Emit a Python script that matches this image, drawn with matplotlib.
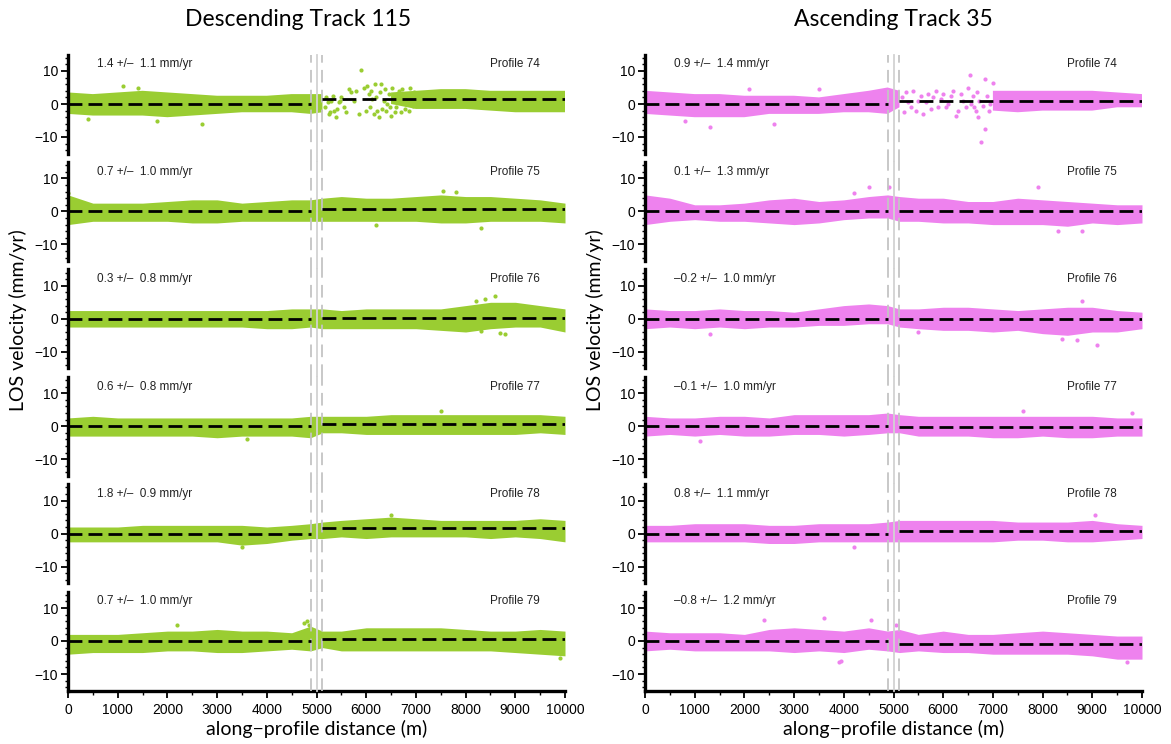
import matplotlib
matplotlib.use('Agg')
import matplotlib.pyplot as plt
from matplotlib.ticker import MultipleLocator
import numpy as np

nan = np.nan

# along-profile sample positions (m) for the envelope of the point clouds
XS = [0, 500, 1000, 1500, 2000, 2500, 3000, 3500, 4000, 4500, 4880,
      5120, 5500, 6000, 6500, 7000, 7500, 8000, 8500, 9000, 9500, 10000]

PROFILES = ['Profile 74', 'Profile 75', 'Profile 76', 'Profile 77', 'Profile 78', 'Profile 79']

# descending track 115
DESC_OFFSET = [1.4, 0.7, 0.3, 0.6, 1.8, 0.7]
DESC_STD = [1.1, 1.0, 0.8, 0.8, 0.9, 1.0]
DESC_UPPER = [
    [3.5, 3.0, 3.5, 4.0, 3.5, 3.0, 2.5, 2.5, 2.5, 3.0, 3.0, 3.0, nan, nan, 3.5, 4.0, 4.5, 4.5, 4.0, 4.0, 4.0, 4.0],
    [5.0, 2.5, 2.5, 2.5, 3.0, 3.5, 3.5, 2.5, 3.0, 3.5, 3.5, 4.0, 4.5, 4.0, 4.0, 4.5, 5.0, 4.5, 4.5, 4.0, 3.5, 2.5],
    [2.5, 2.5, 2.5, 2.5, 2.5, 2.5, 2.5, 2.5, 2.5, 3.0, 3.0, 3.0, 2.5, 3.0, 3.0, 3.0, 3.0, 4.0, 5.0, 5.0, 4.0, 3.0],
    [2.5, 3.0, 2.5, 2.5, 2.5, 2.5, 2.5, 2.5, 2.5, 2.5, 3.0, 3.0, 3.0, 3.0, 3.5, 3.5, 3.5, 3.5, 3.5, 3.5, 3.5, 3.0],
    [2.0, 2.0, 2.0, 2.5, 2.5, 2.5, 2.5, 2.5, 2.0, 2.5, 3.0, 3.5, 4.0, 4.5, 5.0, 4.5, 4.0, 4.0, 4.0, 4.0, 4.5, 4.0],
    [2.0, 2.0, 2.0, 2.5, 3.0, 3.0, 3.5, 3.0, 3.0, 2.5, 4.5, 3.0, 3.0, 4.0, 4.0, 4.0, 4.0, 3.5, 3.0, 3.0, 3.5, 3.0],
]
DESC_LOWER = [
    [-3.0, -3.5, -3.5, -3.5, -4.0, -3.5, -3.0, -2.5, -2.5, -2.5, -3.0, -2.5, nan, nan, 0.0, -1.5, -1.5, -1.5, -2.0, -2.5, -2.5, -2.5],
    [-4.0, -3.0, -3.0, -3.0, -3.0, -3.5, -3.5, -3.0, -3.0, -3.0, -3.0, -3.0, -3.0, -3.0, -3.0, -3.0, -3.5, -3.5, -3.0, -3.0, -3.0, -3.5],
    [-2.5, -2.5, -2.5, -2.5, -2.5, -2.5, -2.5, -2.5, -3.0, -3.0, -2.5, -3.0, -3.0, -3.0, -3.0, -3.0, -3.5, -4.0, -3.0, -2.5, -2.5, -4.0],
    [-3.0, -3.0, -3.0, -3.0, -3.0, -3.0, -3.5, -3.0, -3.0, -3.0, -3.5, -2.0, -2.0, -2.5, -2.5, -2.5, -2.5, -2.5, -2.5, -2.5, -2.0, -2.5],
    [-2.5, -2.5, -2.5, -2.5, -2.5, -2.5, -2.5, -3.5, -3.0, -2.0, -1.5, -1.5, -1.0, -1.5, -1.0, -1.0, -1.0, -1.0, -1.5, -1.0, -1.5, -2.5],
    [-4.0, -3.5, -3.5, -3.5, -3.0, -3.0, -3.5, -3.5, -3.0, -2.5, -3.0, -2.0, -3.0, -3.0, -3.0, -3.0, -3.0, -3.0, -3.0, -3.5, -4.0, -4.5],
]
DESC_SPARSE = [
    [(5200, 2), (5250, -3), (5300, 1), (5350, -2), (5400, -4), (5450, 0.5), (5500, 2), (5550, -1),
     (5600, -2.5), (5700, 3.5), (5750, 1), (5850, -3), (5900, 10.3), (5950, 5), (6000, -2), (6050, 3),
     (6100, 4), (6150, -3), (6200, 2), (6250, -4), (6300, 6), (6350, 1), (6400, -2), (6450, 3),
     (6500, -3.5), (6550, 2.5), (6600, -1), (6650, 4), (6700, -2.5), (6750, 1.5), (6800, 0),
     (5180, -1), (5230, 0.5), (5280, -2.5), (5330, 2.5), (5420, -1.5), (5480, 1), (5650, 4.5),
     (5800, 4), (6020, 5.5), (6080, -1), (6120, 1.5), (6180, 6), (6220, -2), (6280, 3.5), (6320, -1.5),
     (6380, 4.5), (6420, 0), (6480, -1), (6520, 5), (6580, -2.5), (6620, 3), (6680, 1), (6720, 4.5),
     (6780, -1.5), (6820, 3), (6860, -2), (6880, 5), (6900, 1), (6940, -0.5), (6970, 3.5),
     (1400, 5), (2700, -6), (1100, 5.5), (400, -4.5), (1800, -5)],
    [(6200, -4), (8300, -5), (0, 5.5), (7800, 6), (7550, 6.2)],
    [(8600, 7), (8400, 6), (8200, 5.5), (8800, -4.5), (8300, -3.8), (8700, -4.2)],
    [(3600, -4), (7500, 4.5)],
    [(6500, 5.5), (3500, -4)],
    [(4800, 6), (4850, 5), (2200, 5), (9900, -5), (4750, 5.5)],
]

# ascending track 35
ASC_OFFSET = [0.9, 0.1, -0.2, -0.1, 0.8, -0.8]
ASC_STD = [1.4, 1.3, 1.0, 1.0, 1.1, 1.2]
ASC_UPPER = [
    [4.0, 3.5, 3.0, 3.0, 2.5, 2.5, 2.5, 2.0, 3.0, 4.0, 5.0, 4.0, nan, nan, nan, 4.0, 4.0, 4.0, 4.0, 4.0, 3.5, 3.0],
    [5.0, 4.0, 2.0, 2.0, 2.5, 3.5, 4.0, 3.0, 3.5, 4.5, 5.0, 4.5, 4.0, 4.0, 3.0, 3.0, 4.0, 3.5, 3.0, 2.5, 2.0, 2.0],
    [3.0, 2.5, 2.5, 3.0, 2.5, 2.5, 2.0, 3.0, 4.0, 4.5, 4.0, 3.0, 3.0, 3.5, 3.5, 3.0, 2.5, 3.0, 3.5, 3.5, 2.5, 2.0],
    [3.0, 2.5, 2.5, 3.0, 3.0, 2.5, 3.5, 3.5, 3.5, 3.5, 4.0, 3.5, 3.0, 3.0, 3.0, 3.0, 3.0, 3.0, 3.0, 3.0, 2.5, 2.5],
    [2.5, 2.5, 3.0, 3.0, 3.0, 2.5, 2.5, 3.0, 3.0, 3.0, 3.5, 4.0, 4.0, 4.0, 4.0, 4.0, 3.5, 3.5, 3.5, 4.0, 3.0, 2.5],
    [3.0, 2.5, 2.5, 2.5, 2.0, 3.5, 4.0, 3.5, 3.0, 4.0, 3.0, 3.5, 2.0, 3.0, 2.0, 2.0, 2.5, 3.0, 2.5, 2.0, 1.5, 1.5],
]
ASC_LOWER = [
    [-3.0, -3.5, -4.0, -4.0, -4.0, -3.0, -3.0, -3.0, -2.5, -2.5, -3.0, -1.0, nan, nan, nan, -2.0, -2.5, -2.0, -2.0, -2.0, -1.0, -1.0],
    [-4.0, -3.0, -2.5, -3.0, -3.0, -3.5, -4.0, -3.5, -2.5, -2.0, -2.0, -3.0, -3.0, -3.5, -3.5, -4.0, -4.0, -4.0, -4.5, -3.5, -4.0, -3.5],
    [-3.0, -2.5, -3.0, -2.5, -3.0, -2.5, -2.5, -2.0, -2.0, -1.5, -1.5, -2.5, -3.0, -3.5, -3.5, -4.0, -3.5, -4.5, -5.0, -4.0, -4.0, -3.0],
    [-3.0, -2.5, -3.0, -2.5, -3.0, -3.0, -2.5, -2.5, -3.0, -2.5, -2.0, -2.0, -3.0, -3.0, -3.0, -3.5, -3.5, -3.0, -3.5, -3.5, -3.0, -3.0],
    [-2.5, -2.5, -2.5, -2.5, -2.5, -3.0, -3.0, -2.5, -2.5, -2.5, -2.5, -2.5, -2.5, -2.5, -2.5, -2.5, -2.0, -2.0, -2.5, -2.5, -2.0, -1.5],
    [-3.0, -2.5, -3.0, -3.0, -3.0, -3.0, -3.5, -3.0, -3.5, -2.5, -3.0, -3.5, -3.0, -3.5, -3.5, -4.0, -4.0, -4.0, -4.0, -4.5, -5.5, -5.5],
]
ASC_SPARSE = [
    [(5350, -1), (5400, 4), (5500, 1), (5600, -3), (5700, 3), (5800, 2), (5900, -1), (6000, 3),
     (6100, 0), (6200, 4), (6250, -3.5), (6300, -2), (6400, 1), (6540, 8.8), (6500, 5), (6600, 2.5),
     (6650, -2), (6700, -4), (6770, -11.5), (6840, -7.5), (6840, 7.5), (6950, 0), (7000, 6.5),
     (5180, 2), (5220, -2.5), (5260, 3.5), (5300, 0.5), (5450, -2), (5550, 2.5), (5650, 0.5),
     (5750, -1.5), (5850, 4), (5950, 1.5), (6050, -1), (6150, 2.5), (6350, 3), (6450, -1),
     (6560, 0), (6620, -1), (6680, 3.5), (6720, 1), (6800, -0.5), (6880, 2.5), (6920, -2),
     (2600, -6), (3500, 4.5), (1300, -7), (800, -5), (2100, 4.5)],
    [(4500, 7.5), (4900, 7.5), (7900, 7.3), (8300, -6), (8800, -6), (4200, 5.5)],
    [(9100, -8), (8400, -6), (8700, -6.5), (5500, -4), (1300, -4.5), (8800, 5.5)],
    [(1100, -4.5), (7600, 4.5), (9800, 4)],
    [(9050, 5.5), (4200, -4)],
    [(3900, -6.5), (3950, -6), (2400, 6.5), (3600, 7), (4550, 6.5), (5050, 5), (9700, -6.5)],
]

FAULT_X = 5000
ZONE_EDGES = [4880, 5120]

W, H = 1171, 744
fig = plt.figure(figsize=(W / 100, H / 100), dpi=100)

tick_font = 'Liberation Sans'
label_font = 'Lato'


def draw_column(x0, color, offsets, stds, uppers, lowers, sparse, title, title_x):
    for i in range(6):
        top = 54.5 + 107.4 * i
        ax = fig.add_axes([x0 / W, 1 - (top + 99) / H, 497 / W, 99 / H])
        ax.set_xlim(0, 10000)
        ax.set_ylim(-15, 15)

        # point cloud (envelope of the scatter) and isolated points
        ax.fill_between(XS, lowers[i], uppers[i], color=color, lw=0, zorder=2)
        if sparse[i]:
            px = [p[0] for p in sparse[i]]
            py = [p[1] for p in sparse[i]]
            ax.scatter(px, py, s=9, color=color, linewidths=0, zorder=2)

        # fault zone markers
        ext = 0.0 if i == 5 else -0.09
        for xe in ZONE_EDGES:
            ax.axvline(xe, ymin=ext, ymax=1, color='#c4c4c4', lw=1.3,
                       ls=(0, (7, 4)), clip_on=False, zorder=3)
        ax.axvline(FAULT_X, ymin=ext, ymax=1, color='#d2d2d2', lw=1.3,
                   clip_on=False, zorder=3)

        # offsets across the fault
        ax.plot([0, ZONE_EDGES[0]], [0, 0], color='black', lw=2,
                ls=(0, (5, 2.2)), zorder=4)
        ax.plot([ZONE_EDGES[1], 10000], [offsets[i], offsets[i]], color='black',
                lw=2, ls=(0, (5, 2.2)), zorder=4)

        off = ('%.1f' % offsets[i]).replace('-', '\u2013')
        ax.text(580, 12, '%s +/\u2013  %.1f mm/yr' % (off, stds[i]), fontsize=8.5,
                family=tick_font, va='center', ha='left', color='#222222')
        ax.text(9500, 12, PROFILES[i], fontsize=8.5, family=tick_font,
                va='center', ha='right', color='#222222')

        for s in ['top', 'right']:
            ax.spines[s].set_visible(False)
        ax.spines['left'].set_linewidth(2.4)
        ax.yaxis.set_minor_locator(MultipleLocator(2))
        ax.tick_params(axis='y', which='major', length=5, width=1.3, labelsize=10,
                       direction='out', pad=2)
        ax.tick_params(axis='y', which='minor', length=2.5, width=1.0, direction='out')
        ax.set_yticks([-10, 0, 10])
        ax.set_yticklabels(['\u221210', '0', '10'], family=tick_font)

        if i == 5:
            ax.spines['bottom'].set_linewidth(2.4)
            ax.xaxis.set_major_locator(MultipleLocator(1000))
            ax.xaxis.set_minor_locator(MultipleLocator(500))
            ax.tick_params(axis='x', which='major', length=5, width=1.3, labelsize=10,
                           direction='out', pad=4)
            ax.tick_params(axis='x', which='minor', length=3, width=1.0, direction='out')
            for lab in ax.get_xticklabels():
                lab.set_family(tick_font)
        else:
            ax.spines['bottom'].set_visible(False)
            ax.set_xticks([])

    cx = (x0 + 497 / 2) / W
    fig.text(title_x / W, 1 - 20 / H, title, ha='center', va='center', fontsize=16.5,
             family=label_font)
    fig.text(cx, 1 - 729 / H, 'along\u2212profile distance (m)', ha='center',
             va='center', fontsize=14, family=label_font)
    fig.text((x0 - 50) / W, 1 - 320 / H, 'LOS velocity (mm/yr)', ha='center',
             va='center', rotation=90, fontsize=14, family=label_font)


draw_column(68, '#9acd32', DESC_OFFSET, DESC_STD, DESC_UPPER, DESC_LOWER,
            DESC_SPARSE, 'Descending Track 115', 298)
draw_column(645, '#ee82ee', ASC_OFFSET, ASC_STD, ASC_UPPER, ASC_LOWER,
            ASC_SPARSE, 'Ascending Track 35', 893)

fig.savefig('out.png', dpi=100)
